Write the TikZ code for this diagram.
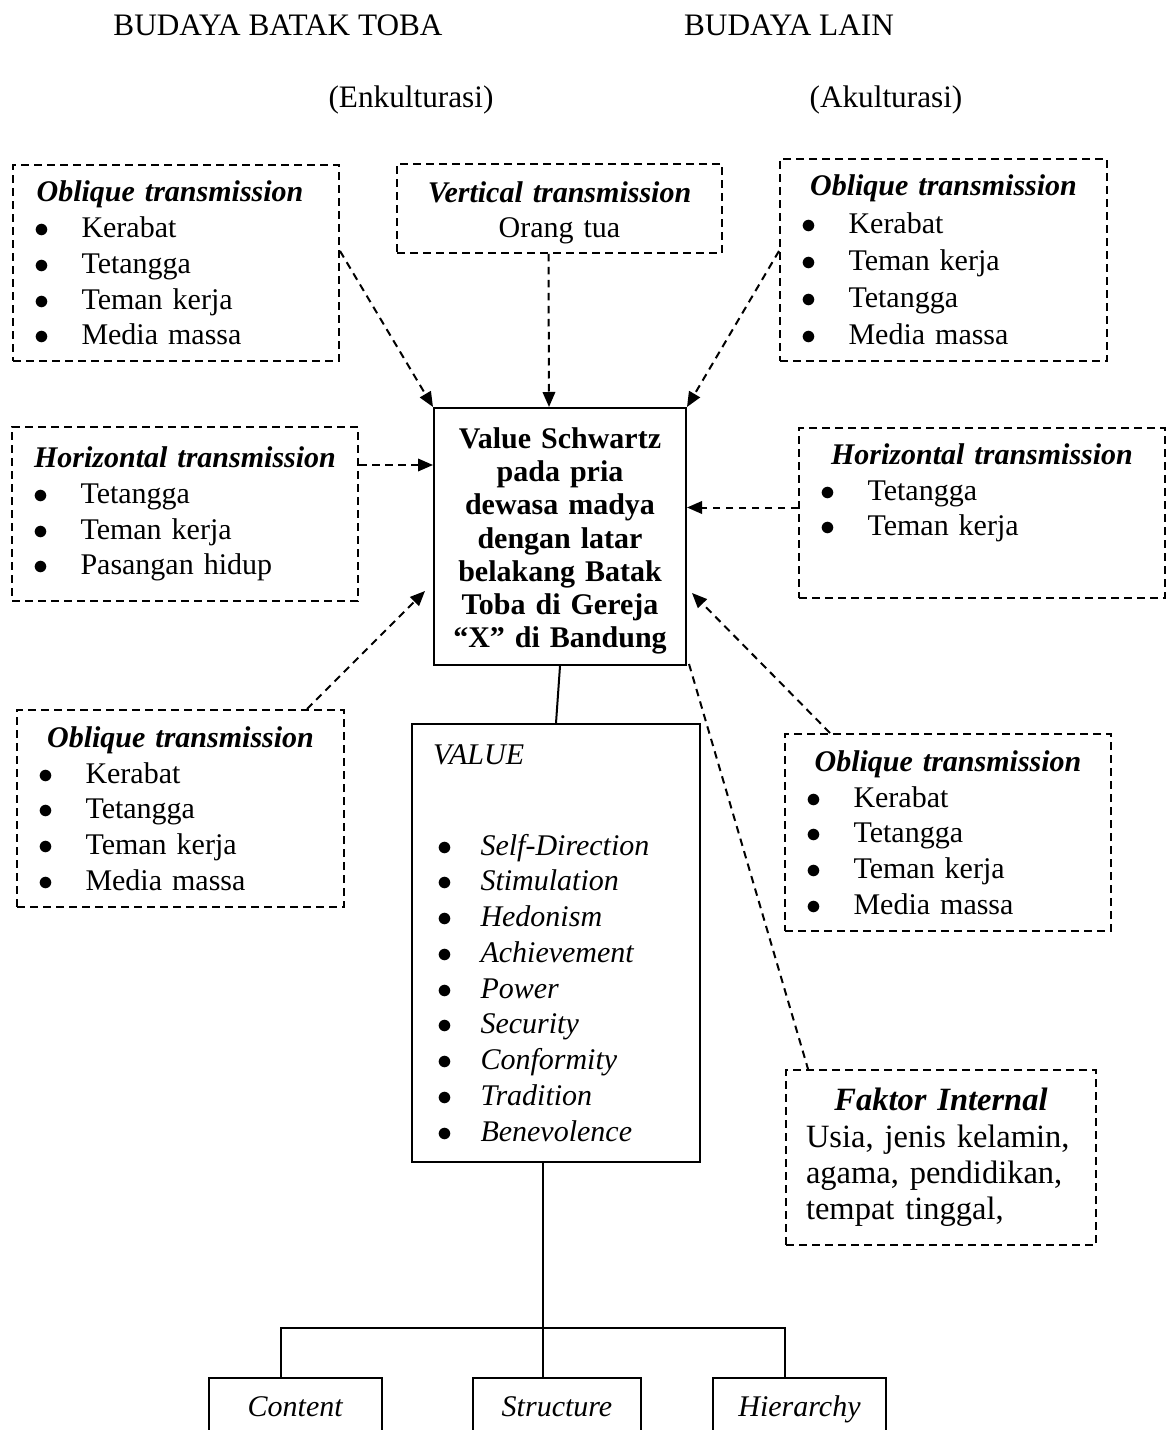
\documentclass[tikz,border=0pt]{standalone}
\usepackage{fontspec}
\setmainfont{Liberation Serif}
\usetikzlibrary{arrows.meta,positioning}
\newcommand\bul[2][8.4pt]{\hspace*{#1}\makebox[\dimexpr27.4pt-#1\relax][l]{$\bullet$}#2}
\tikzset{
  boxsize/.style 2 args={minimum width=#1*0.4pt, minimum height=#2*0.4pt, text width=#1*0.4pt},
  dashbox/.style={draw, line width=0.8pt, dash pattern=on 3.2pt off 2pt, anchor=north west, inner sep=0pt, align=left},
  solidbox/.style={draw, line width=0.8pt, anchor=north west, inner sep=0pt},
  link/.style={line width=0.8pt, dash pattern=on 3pt off 2.2pt, -{Triangle[length=6pt,width=5pt]}},
  plainlink/.style={line width=0.8pt, dash pattern=on 3pt off 2.2pt},
  tree/.style={line width=0.8pt},
  heading/.style={font=\fontsize{12.5}{15}\selectfont},
  every node/.style={font=\fontsize{12}{14.3}\selectfont},
}

\begin{document}
\begin{tikzpicture}[x=0.4pt,y=-0.4pt]
\useasboundingbox (0,0) rectangle (1170,1430);
% judul
\node[heading] (bbt) at (278,25) {BUDAYA BATAK TOBA};
\node[heading] (blain) at (789,25) {BUDAYA LAIN};
\node[heading] (enk) at (411,100) {(Enkulturasi)};
\node[heading] (akul) at (886,100) {(Akulturasi)};
% kotak transmisi
\node[dashbox, boxsize={326}{196}] (oblTL) at (12,164)
  {{\centering\bfseries\itshape Oblique transmission\hspace*{4.8pt}\par}\bul{Kerabat}\\\bul{Tetangga}\\\bul{Teman kerja}\\\bul{Media massa}};
\node[dashbox, boxsize={325}{89}, align=center] (vert) at (396,163)
  {\rule{0pt}{11.8pt}{\bfseries\itshape Vertical transmission}\\Orang tua};
\node[dashbox, boxsize={327}{202}, font=\fontsize{12}{14.9}\selectfont] (oblTR) at (779,158)
  {{\centering\bfseries\itshape Oblique transmission\par}\bul{Kerabat}\\\bul{Teman kerja}\\\bul{Tetangga}\\\bul{Media massa}};
\node[dashbox, boxsize={346}{174}] (horL) at (11,426)
  {{\centering\bfseries\itshape Horizontal transmission\par}\bul{Tetangga}\\\bul{Teman kerja}\\\bul{Pasangan hidup}};
\node[dashbox, boxsize={366}{170}] (horR) at (798,427)
  {{\centering\bfseries\itshape Horizontal transmission\par}\bul{Tetangga}\\\bul{Teman kerja}\\\strut};
\node[dashbox, boxsize={327}{197}] (oblLL) at (16,709)
  {{\centering\bfseries\itshape Oblique transmission\par}\bul{Kerabat}\\\bul{Tetangga}\\\bul{Teman kerja}\\\bul{Media massa}};
\node[dashbox, boxsize={326}{197}] (oblLR) at (784,733)
  {{\centering\bfseries\itshape Oblique transmission\par}\bul{Kerabat}\\\bul{Tetangga}\\\bul{Teman kerja}\\\bul{Media massa}};
\node[dashbox, boxsize={310}{175}, font=\fontsize{13}{14.5}\selectfont] (fak) at (785,1069)
  {{\centering\bfseries\itshape Faktor Internal\par}\hspace*{8pt}Usia, jenis kelamin,\\\hspace*{8pt}agama, pendidikan,\\\hspace*{8pt}tempat tinggal,};
% kotak utama
\node[solidbox, boxsize={252}{257}, align=center, font=\bfseries\fontsize{12}{13.3}\selectfont] (cen) at (433,407)
  {\rule{0pt}{12pt}Value Schwartz\\pada pria\\dewasa madya\\dengan latar\\belakang Batak\\Toba di Gereja\\“X” di Bandung};
\node[solidbox, boxsize={288}{438}, align=left] (val) at (411,723)
  {\hspace*{8.4pt}\textit{VALUE}\\[22pt]
   \bul[10pt]{\textit{Self-Direction}}\\\bul[10pt]{\textit{Stimulation}}\\\bul[10pt]{\textit{Hedonism}}\\
   \bul[10pt]{\textit{Achievement}}\\\bul[10pt]{\textit{Power}}\\\bul[10pt]{\textit{Security}}\\
   \bul[10pt]{\textit{Conformity}}\\\bul[10pt]{\textit{Tradition}}\\\bul[10pt]{\textit{Benevolence}}};
\node[solidbox, boxsize={173}{62}, align=center] (cont) at (208,1377) {\strut\textit{Content}};
\node[solidbox, boxsize={168}{62}, align=center] (str) at (472,1377) {\strut\textit{Structure}};
\node[solidbox, boxsize={173}{62}, align=center] (hier) at (712,1377) {\strut\textit{Hierarchy}};
% panah transmisi
\draw[link] ([yshift=4.8pt]oblTL.east) -- (cen.north west);
\draw[link] ([xshift=-4.4pt]vert.south) -- ([xshift=-4.4pt]cen.north);
\draw[link] ([yshift=3.6pt]oblTR.west) -- (cen.north east);
\draw[link] ([yshift=19.6pt]horL.east) -- ([yshift=19.6pt]horL.east -| cen.west);
\draw[link] ([yshift=2.2pt]horR.west) -- ([yshift=2.2pt]horR.west -| cen.east);
\draw[link] ([xshift=-15.2pt]oblLL.north east) -- ([xshift=-3.2pt,yshift=30pt]cen.south west);
\draw[link] ([xshift=18.4pt]oblLR.north west) -- ([xshift=2pt,yshift=29.2pt]cen.south east);
\draw[plainlink] ([xshift=0.8pt,yshift=0.8pt]cen.south east) -- ([xshift=9.2pt]fak.north west);
% struktur value
\draw[tree] (cen.south) -- (val.north);
\coordinate (hub) at (543,1328);
\draw[tree] (val.south -| hub) -- (hub |- str.north);
\draw[tree] ([xshift=-5.8pt]cont.north) |- (hub) -| ([xshift=-5.8pt]hier.north);
\end{tikzpicture}
\end{document}
